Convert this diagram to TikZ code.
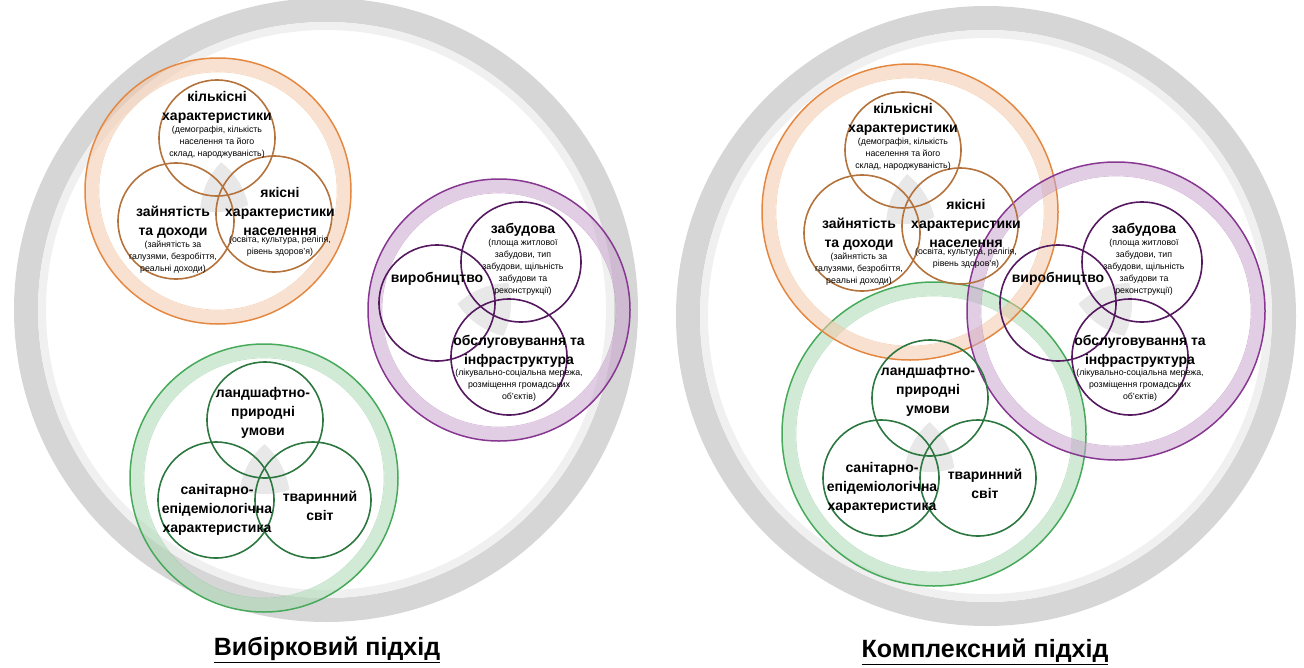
\documentclass[tikz,border=0pt]{standalone}
\usepackage{fontspec}
\setmainfont{Liberation Sans}
\usetikzlibrary{positioning}

\definecolor{sire}{RGB}{214,214,214}
\definecolor{orline}{RGB}{228,135,65}
\definecolor{orkolo}{RGB}{180,115,60}
\definecolor{fiolline}{RGB}{135,55,145}
\definecolor{fiolkolo}{RGB}{85,25,95}
\definecolor{zelline}{RGB}{70,170,90}
\definecolor{zelkolo}{RGB}{45,120,65}

\tikzset{kolo/.style={circle,draw,line width=1.6pt,minimum size=116pt,inner sep=0pt},
	napys/.style={font=\bfseries\fontsize{14}{19}\selectfont,align=center,inner sep=0pt},
	poyasn/.style={font=\fontsize{8.8}{12}\selectfont,align=center,inner sep=0pt},
	zagol/.style={font=\bfseries\fontsize{25}{28}\selectfont,inner sep=0pt},
	tin/.style={fill=black!30,opacity=.3} }

% big coloured ring: centre, radius, colour
\newcommand{\grupa}[3]{%
  \draw[line width=13pt,draw=#3!45,opacity=.55] #1 circle ({#2-7});
  \draw[line width=.6pt,draw=#3!60,opacity=.6] #1 circle ({#2-14});
  \draw[line width=1.5pt,draw=#3] #1 circle (#2);}

% population circles
\newcommand{\naselennia}[2]{%
 \begin{scope}[shift={#2}]
  \begin{scope}
   \clip (0,0) circle (74); \clip (-41,83) circle (74);
   \fill[tin] (57,76) circle (74);
  \end{scope}
  \node (#1kil) [kolo,draw=orkolo] at (0,0) {};
  \node (#1zai) [kolo,draw=orkolo] at (-41,83) {};
  \node (#1yak) [kolo,draw=orkolo] at (57,76) {};
  \node (#1kilt) [napys] at (0,-31) {кількісні\\характеристики};
  \node (#1kilp) [poyasn,below=3pt of #1kilt] {(демографія, кількість\\населення та його\\склад, народжуваність)};
  \node (#1zait) [napys] at (-44,84) {зайнятість\\та доходи};
  \node (#1zaip) [poyasn,below=2pt of #1zait] {(зайнятість за\\галузями, безробіття,\\реальні доходи)};
  \node (#1yakt) [napys] at (63,73) {якісні\\характеристики\\населення};
  \node (#1yakp) [poyasn,below=1pt of #1yakt] {(освіта, культура, релігія,\\рівень здоров'я)};
 \end{scope}}

% settlement circles
\newcommand{\zabudova}[2]{%
 \begin{scope}[shift={#2}]
  \begin{scope}
   \clip (0,0) circle (76); \clip (-84,41) circle (74);
   \fill[tin] (-12,95) circle (74);
  \end{scope}
  \node (#1zab) [kolo,draw=fiolkolo,minimum size=120pt] at (0,0) {};
  \node (#1vyr) [kolo,draw=fiolkolo] at (-84,41) {};
  \node (#1obs) [kolo,draw=fiolkolo] at (-12,95) {};
  \node (#1zabt) [napys] at (2,-32) {забудова};
  \node (#1zabp) [poyasn,below=2pt of #1zabt] {(площа житлової\\забудови, тип\\забудови, щільність\\забудови та\\реконструкції)};
  \node (#1vyrt) [napys] at (-84,17) {виробництво};
  \node (#1obst) [napys] at (-2,89) {обслуговування та\\інфраструктура};
  \node (#1obsp) [poyasn,below=2pt of #1obst] {(лікувально-соціальна мережа,\\розміщення громадських\\об'єктів)};
 \end{scope}}

% nature circles
\newcommand{\pryroda}[2]{%
 \begin{scope}[shift={#2}]
  \begin{scope}
   \clip (0,0) circle (74); \clip (-49,80) circle (74);
   \fill[tin] (48,80) circle (74);
  \end{scope}
  \node (#1lan) [kolo,draw=zelkolo] at (0,0) {};
  \node (#1san) [kolo,draw=zelkolo] at (-49,80) {};
  \node (#1tva) [kolo,draw=zelkolo] at (48,80) {};
  \node (#1lant) [napys] at (-2,-7) {ландшафтно-\\природні\\умови};
  \node (#1sant) [napys] at (-48,90) {санітарно-\\епідеміологічна\\характеристика};
  \node (#1tvat) [napys] at (55,86) {тваринний\\світ};
 \end{scope}}

\begin{document}
\begin{tikzpicture}[x=1pt,y=-1pt]
  \useasboundingbox (0,0) rectangle (1304,667);

  % selective approach
  \draw[line width=24pt,draw=sire] (326,310) circle (300);
  \draw[line width=8pt,draw=black!6] (326,310) circle (284);
  \grupa{(218,191)}{133}{orline}
  \grupa{(499,310)}{131}{fiolline}
  \grupa{(264,478)}{134}{zelline}
  \naselennia{L}{(217,138)}
  \zabudova{L}{(521,262)}
  \pryroda{L}{(265,420)}
  \node (tytL) [zagol] at (327,650) {\underline{Вибірковий підхід}};

  % complex approach
  \draw[line width=24pt,draw=sire] (986,316) circle (298);
  \draw[line width=8pt,draw=black!6] (986,316) circle (282);
  \grupa{(934,434)}{152}{zelline}
  \grupa{(910,212)}{148}{orline}
  \grupa{(1116,311)}{149}{fiolline}
  \naselennia{R}{(903,150)}
  \zabudova{R}{(1142,262)}
  \pryroda{R}{(930,398)}
  \node (tytR) [zagol] at (985,652) {\underline{Комплексний підхід}};
\end{tikzpicture}
\end{document}
